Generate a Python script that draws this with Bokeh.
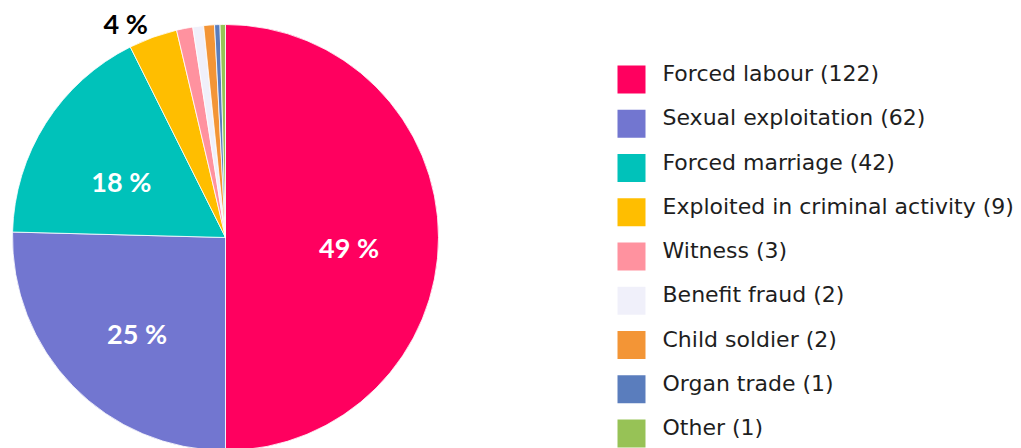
import numpy as np
from bokeh.plotting import figure
from bokeh.models import Range1d, ColumnDataSource
from bokeh.core.properties import value
from bokeh.embed import file_html
from bokeh.resources import INLINE

categories = ["Forced labour", "Sexual exploitation", "Forced marriage",
              "Exploited in criminal activity", "Witness", "Benefit fraud",
              "Child soldier", "Organ trade", "Other"]
counts = [122, 62, 42, 9, 3, 2, 2, 1, 1]
pct_labels = ["49 %", "25 %", "18 %", "4 %", "", "", "", "", ""]
colors = ["#FF005F", "#7276D0", "#00C2BA", "#FFBE00", "#FF929F",
          "#F0F0FA", "#F39536", "#5A7DBD", "#97C256"]

W, H = 1021, 448
CX, CY, R = 225, 211, 213

p = figure(width=W, height=H, x_range=Range1d(0, W), y_range=Range1d(0, H),
           output_backend="svg", toolbar_location=None, min_border=0,
           x_axis_type=None, y_axis_type=None)
p.grid.visible = False
p.outline_line_color = None
p.background_fill_color = "white"

vals = np.array(counts, dtype=float)
frac = vals / vals.sum()
cum_end = np.cumsum(frac)
cum_start = cum_end - frac
start = np.pi / 2 - 2 * np.pi * cum_end
end = np.pi / 2 - 2 * np.pi * cum_start
mid = (start + end) / 2

src = ColumnDataSource(dict(start=start, end=end, color=colors, cat=categories))
p.wedge(x=CX, y=CY, radius=R, start_angle="start", end_angle="end",
        direction="anticlock", fill_color="color", line_color="white",
        line_width=0.8, source=src)

# percentage labels
in_x, in_y, in_t = [], [], []
out_x, out_y, out_t, out_align = [], [], [], []
for f, m, t in zip(frac, mid, pct_labels):
    if not t:
        continue
    if f > 0.1:
        r = 0.58 * R
        in_x.append(CX + r * np.cos(m)); in_y.append(CY + r * np.sin(m) - 10); in_t.append(t)
    else:
        r = R + 15
        out_x.append(CX + r * np.cos(m)); out_y.append(CY + r * np.sin(m)); out_t.append(t)
        out_align.append("right" if np.cos(m) < 0 else "left")

p.text(x=in_x, y=in_y, text=in_t, text_color="white", text_font=value("Lato"),
       text_font_style="bold", text_font_size="27px", text_align="center",
       text_baseline="middle")
p.text(x=out_x, y=out_y, text=out_t, text_color="black", text_font=value("Lato"),
       text_font_style="bold", text_font_size="27px", text_align=out_align,
       text_baseline="middle")

# legend
n = len(categories)
row_gap = 44.25
ly = [H - (79 + row_gap * i) for i in range(n)]
lx = [631] * n
leg_text = [f"{c} ({v})" for c, v in zip(categories, counts)]
p.rect(x=lx, y=ly, width=28, height=28, fill_color=colors, line_color=None)
p.text(x=[662] * n, y=[v + 6 for v in ly], text=leg_text, text_color="#1e1e1e",
       text_font=value("DejaVu Sans"), text_font_size="22px", text_align="left",
       text_baseline="middle")

open("out.html", "w").write(file_html(p, INLINE))
